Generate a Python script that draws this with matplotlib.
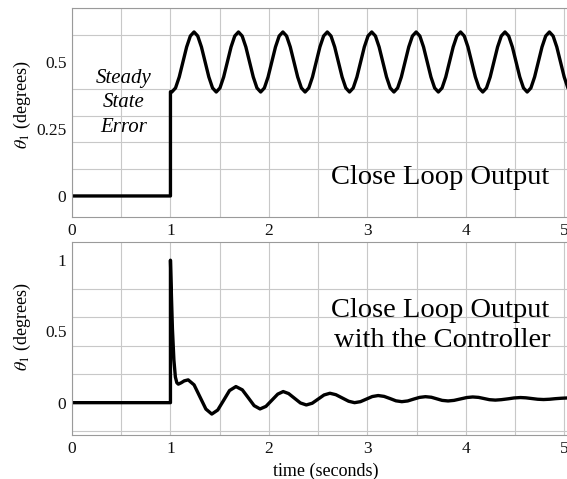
import numpy as np
import matplotlib
matplotlib.use("Agg")
import matplotlib.pyplot as plt
from matplotlib.ticker import MultipleLocator, FixedLocator

plt.rcParams['font.family'] = ['Liberation Serif', 'DejaVu Serif']
plt.rcParams['mathtext.fontset'] = 'stix'

# --- data ---
# top panel: zero until the step at t = 1 s, then a steady oscillation
t_pre = [0.0, 1.0, 1.0]
theta_pre = [0.0, 0.0, 0.389]
t_osc_start = 1.014   # first sample of the oscillation (s)
t_osc_step = 0.0376   # sample spacing (s)
theta_osc = [
    0.388, 0.403, 0.444, 0.500, 0.556, 0.597, 0.612, 0.597, 0.556, 0.500, 0.444, 0.403,
    0.388, 0.403, 0.444, 0.500, 0.556, 0.597, 0.612, 0.597, 0.556, 0.500, 0.444, 0.403,
    0.388, 0.403, 0.444, 0.500, 0.556, 0.597, 0.612, 0.597, 0.556, 0.500, 0.444, 0.403,
    0.388, 0.403, 0.444, 0.500, 0.556, 0.597, 0.612, 0.597, 0.556, 0.500, 0.444, 0.403,
    0.388, 0.403, 0.444, 0.500, 0.556, 0.597, 0.612, 0.597, 0.556, 0.500, 0.444, 0.403,
    0.388, 0.403, 0.444, 0.500, 0.556, 0.597, 0.612, 0.597, 0.556, 0.500, 0.444, 0.403,
    0.388, 0.403, 0.444, 0.500, 0.556, 0.597, 0.612, 0.597, 0.556, 0.500, 0.444, 0.403,
    0.388, 0.403, 0.444, 0.500, 0.556, 0.597, 0.612, 0.597, 0.556, 0.500, 0.444, 0.403,
    0.388, 0.403, 0.444, 0.500, 0.556, 0.597, 0.612, 0.597, 0.556, 0.500, 0.444, 0.403,
    0.388, 0.403, 0.444, 0.500,
]

# bottom panel: spike at t = 1 s, then a damped oscillation
t_ctrl = [0.0, 1.0, 1.0, 1.01, 1.02, 1.035, 1.05, 1.065, 1.08, 1.11, 1.14, 1.18,
          1.24, 1.30, 1.36, 1.42,
          1.48, 1.54, 1.60, 1.665,
          1.73, 1.79, 1.85, 1.91,
          1.97, 2.03, 2.09, 2.145,
          2.20, 2.26, 2.32, 2.38,
          2.44, 2.50, 2.56, 2.62,
          2.68, 2.745, 2.81, 2.87,
          2.93, 2.99, 3.05, 3.11,
          3.17, 3.23, 3.29, 3.35,
          3.41, 3.47, 3.53, 3.59,
          3.65, 3.705, 3.76, 3.82,
          3.88, 3.945, 4.01, 4.07,
          4.13, 4.185, 4.24, 4.30,
          4.36, 4.43, 4.49, 4.555,
          4.61, 4.67, 4.73, 4.79,
          4.85, 4.91, 4.97, 5.03,
          5.09, 5.15, 5.21]
theta_ctrl = [0.0, 0.0, 1.0, 0.75, 0.52, 0.30, 0.18, 0.14, 0.13, 0.14, 0.153, 0.16,
              0.125, 0.040, -0.045, -0.080,
              -0.052, 0.016, 0.085, 0.113,
              0.090, 0.035, -0.021, -0.044,
              -0.026, 0.017, 0.060, 0.078,
              0.064, 0.031, -0.002, -0.016,
              -0.004, 0.025, 0.054, 0.066,
              0.056, 0.033, 0.010, 0.000,
              0.007, 0.025, 0.043, 0.050,
              0.044, 0.029, 0.013, 0.007,
              0.012, 0.025, 0.037, 0.042,
              0.038, 0.027, 0.016, 0.012,
              0.016, 0.026, 0.036, 0.040,
              0.037, 0.029, 0.021, 0.018,
              0.021, 0.027, 0.033, 0.036,
              0.034, 0.029, 0.024, 0.022,
              0.024, 0.028, 0.031, 0.033,
              0.032, 0.029, 0.027]

x_ticks = [0, 1, 2, 3, 4, 5]
y_ticks_top = [0, 0.25, 0.5]
y_ticks_top_labels = ['0', '0.25', '0.5']
y_ticks_bot = [0, 0.5, 1]
y_ticks_bot_labels = ['0', '0.5', '1']

t_osc = t_osc_start + t_osc_step * np.arange(len(theta_osc))
t_top = np.concatenate([t_pre, t_osc])
theta_top = np.concatenate([theta_pre, theta_osc])

fig = plt.figure(figsize=(5.67, 4.79), dpi=100)
W, H = 567, 479
ax1 = fig.add_axes([72 / W, 1 - 217.4 / H, 508 / W, 209 / H])
ax2 = fig.add_axes([72 / W, 1 - 435 / H, 508 / W, 193.3 / H])

grid_c = '#c8c8c8'
spine_c = '#9a9a9a'


def style(ax, yticks, ylabels, ygrid, ylim, ylab_y):
    ax.set_xlim(0, 5.16)
    ax.set_ylim(*ylim)
    ax.xaxis.set_major_locator(FixedLocator(x_ticks))
    ax.xaxis.set_minor_locator(MultipleLocator(0.5))
    ax.set_yticks(yticks)
    ax.set_yticklabels(ylabels)
    ax.yaxis.set_minor_locator(MultipleLocator(ygrid))
    ax.grid(True, which='both', axis='x', color=grid_c, lw=0.8)
    ax.grid(True, which='minor', axis='y', color=grid_c, lw=0.8)
    ax.set_axisbelow(True)
    ax.tick_params(which='both', length=0, labelsize=12.5, pad=4, colors='#111111')
    for s in ax.spines.values():
        s.set_color(spine_c)
        s.set_linewidth(0.8)
    ax.set_ylabel(r'$\theta_1$ (degrees)', fontsize=13)
    ax.yaxis.set_label_coords(-0.077, ylab_y)


style(ax1, y_ticks_top, y_ticks_top_labels, 0.1, (-0.08, 0.70), 0.54)
style(ax2, y_ticks_bot, y_ticks_bot_labels, 0.2, (-0.227, 1.13), 0.56)

ax1.plot(t_top, theta_top, color='black', lw=2.4)
ax2.plot(t_ctrl, theta_ctrl, color='black', lw=2.4)

for word, yb in [('Steady', 0.42), ('State', 0.332), ('Error', 0.239)]:
    ax1.text(0.52, yb, word, style='italic', fontsize=15, ha='center', va='baseline')
ax1.text(3.74, 0.045, 'Close Loop Output', fontsize=20.5, ha='center', va='baseline')
ax2.text(3.74, 0.604, 'Close Loop Output', fontsize=20.5, ha='center', va='baseline')
ax2.text(3.76, 0.393, 'with the Controller', fontsize=20.5, ha='center', va='baseline')

ax2.set_xlabel('time (seconds)', fontsize=13)
ax2.xaxis.set_label_coords(0.5, -0.143)

fig.savefig('out.png', dpi=100)
